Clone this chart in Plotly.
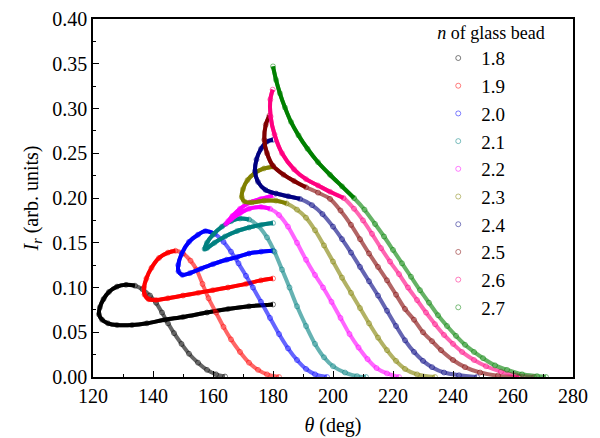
import plotly.graph_objects as go

labels = ["1.8", "1.9", "2.0", "2.1", "2.2", "2.3", "2.4", "2.5", "2.6", "2.7"]
colors = ["#000000", "#FF0000", "#0000FF", "#008080", "#FF00FF",
          "#808000", "#000080", "#800000", "#FF0080", "#008000"]

theta_18 = [180.0, 172.0, 165.0, 158.0, 150.0, 144.0, 138.0, 133.0, 128.0, 125.0, 123.0, 122.0, 122.3, 123.5,
            125.3, 128.0, 131.0, 134.0, 136.5, 139.0, 141.0, 143.0, 145.0, 147.0, 149.5, 152.0, 155.0, 158.0,
            161.0, 164.0]
I_18 = [0.081, 0.079, 0.076, 0.072, 0.067, 0.064, 0.060, 0.058, 0.058, 0.060, 0.064, 0.070, 0.078, 0.087,
        0.095, 0.101, 0.103, 0.102, 0.098, 0.091, 0.083, 0.072, 0.060, 0.049, 0.037, 0.026, 0.016, 0.008,
        0.003, 0.0005]

theta_19 = [180.0, 176.0, 171.0, 165.0, 160.0, 155.0, 150.0, 145.0, 141.0, 138.5, 137.2, 137.0, 137.8, 139.5,
            142.0, 145.0, 147.5, 150.0, 152.5, 154.5, 156.5, 158.5, 161.0, 163.5, 166.0, 169.0, 172.0, 175.0,
            178.0, 182.0]
I_19 = [0.110, 0.108, 0.104, 0.100, 0.097, 0.094, 0.091, 0.088, 0.086, 0.087, 0.092, 0.100, 0.110, 0.122,
        0.133, 0.139, 0.141, 0.138, 0.130, 0.120, 0.104, 0.088, 0.072, 0.056, 0.042, 0.028, 0.016, 0.008,
        0.003, 0.0]

theta_20 = [180.0, 176.0, 172.0, 168.0, 164.5, 160.0, 156.0, 152.3, 149.8, 148.5, 148.4, 149.6, 152.0, 155.0,
            157.5, 160.5, 163.5, 166.0, 168.5, 171.0, 173.3, 176.0, 179.0, 182.0, 185.0, 188.0, 191.0, 194.0,
            198.0]
I_20 = [0.141, 0.140, 0.138, 0.134, 0.131, 0.126, 0.121, 0.116, 0.114, 0.118, 0.125, 0.138, 0.151, 0.159,
        0.163, 0.160, 0.151, 0.140, 0.127, 0.113, 0.100, 0.084, 0.066, 0.048, 0.032, 0.019, 0.009, 0.003,
        0.0]

theta_21 = [180.0, 176.0, 172.0, 168.0, 164.0, 160.5, 158.0, 157.2, 158.0, 160.0, 163.0, 166.0, 169.0, 172.0,
            175.0, 178.0, 180.5, 183.0, 185.5, 188.0, 191.0, 194.0, 197.0, 200.0, 204.0, 208.0, 211.0]
I_21 = [0.172, 0.170, 0.167, 0.163, 0.157, 0.150, 0.144, 0.143, 0.150, 0.159, 0.168, 0.174, 0.177, 0.176,
        0.169, 0.156, 0.140, 0.120, 0.100, 0.079, 0.057, 0.037, 0.022, 0.012, 0.005, 0.001, 0.0]

theta_22 = [180.0, 176.0, 172.3, 169.0, 166.5, 165.0, 164.3, 166.0, 169.0, 172.0, 176.0, 179.0, 182.0, 185.0,
            188.0, 191.0, 194.0, 196.7, 199.5, 202.5, 205.5, 208.5, 211.5, 214.5, 218.0, 222.0]
I_22 = [0.203, 0.199, 0.195, 0.188, 0.180, 0.174, 0.171, 0.176, 0.183, 0.188, 0.190, 0.188, 0.181, 0.168,
        0.150, 0.131, 0.114, 0.100, 0.084, 0.066, 0.048, 0.033, 0.020, 0.010, 0.004, 0.0]

theta_23 = [180.0, 177.0, 174.0, 171.5, 170.0, 169.6, 170.5, 173.0, 177.0, 181.0, 184.5, 188.0, 191.0, 194.0,
            197.0, 200.0, 203.0, 206.0, 209.0, 212.0, 215.0, 218.0, 221.0, 224.0, 228.0, 234.0]
I_23 = [0.235, 0.233, 0.228, 0.220, 0.210, 0.201, 0.196, 0.195, 0.197, 0.197, 0.194, 0.187, 0.178, 0.164,
        0.147, 0.129, 0.111, 0.094, 0.077, 0.060, 0.044, 0.030, 0.018, 0.009, 0.003, 0.0]

theta_24 = [180.0, 178.0, 176.0, 174.5, 174.0, 175.0, 177.5, 181.0, 185.0, 189.0, 193.0, 196.5, 200.0, 203.0,
            206.0, 209.0, 212.0, 215.0, 218.0, 221.0, 224.0, 227.0, 230.0, 233.0, 237.0, 242.0, 248.0]
I_24 = [0.265, 0.263, 0.255, 0.243, 0.230, 0.218, 0.209, 0.205, 0.202, 0.199, 0.192, 0.182, 0.168, 0.154,
        0.139, 0.123, 0.107, 0.091, 0.074, 0.057, 0.041, 0.028, 0.018, 0.011, 0.005, 0.002, 0.0]

theta_25 = [178.8, 177.6, 177.1, 178.0, 180.0, 183.5, 187.0, 191.0, 195.0, 199.0, 202.5, 206.0, 209.0, 212.0,
            215.0, 218.0, 221.0, 224.0, 227.0, 230.0, 233.0, 236.0, 240.0, 244.0, 249.0, 255.0, 262.0]
I_25 = [0.292, 0.282, 0.265, 0.250, 0.236, 0.226, 0.219, 0.212, 0.206, 0.199, 0.186, 0.170, 0.154, 0.138,
        0.123, 0.108, 0.092, 0.076, 0.064, 0.050, 0.040, 0.030, 0.019, 0.011, 0.005, 0.0015, 0.0]

theta_26 = [179.9, 179.1, 179.2, 180.5, 183.0, 187.0, 191.0, 195.0, 199.0, 203.5, 207.0, 210.0, 213.0, 216.0,
            219.0, 222.0, 225.0, 228.0, 231.0, 234.0, 237.0, 240.0, 243.0, 247.0, 251.0, 256.0, 261.0, 267.0]
I_26 = [0.321, 0.310, 0.291, 0.271, 0.250, 0.232, 0.221, 0.214, 0.207, 0.200, 0.188, 0.175, 0.160, 0.144,
        0.129, 0.115, 0.100, 0.086, 0.072, 0.059, 0.047, 0.037, 0.028, 0.019, 0.012, 0.006, 0.002, 0.0]

theta_27 = [180.0, 181.0, 182.3, 184.0, 186.0, 188.5, 191.5, 195.0, 199.0, 203.0, 207.0, 210.5, 214.0, 217.0,
            220.0, 223.0, 226.0, 229.0, 232.0, 235.0, 238.0, 241.0, 244.0, 247.0, 250.0, 254.0, 258.0, 263.0,
            268.0, 271.0]
I_27 = [0.347, 0.332, 0.317, 0.301, 0.285, 0.270, 0.255, 0.240, 0.226, 0.213, 0.200, 0.187, 0.171, 0.157,
        0.142, 0.127, 0.112, 0.097, 0.083, 0.069, 0.057, 0.046, 0.036, 0.028, 0.021, 0.013, 0.008, 0.003,
        0.001, 0.0]

# number of leading points drawn densely (the rest of each series is sparser, lighter circles)
dense_count = [18, 17, 16, 14, 12, 11, 10, 8, 10, 11]

series_theta = [theta_18, theta_19, theta_20, theta_21, theta_22, theta_23, theta_24, theta_25, theta_26, theta_27]
series_I = [I_18, I_19, I_20, I_21, I_22, I_23, I_24, I_25, I_26, I_27]

FONT = "Liberation Serif"
fig = go.Figure()

for lab, col, xs, ys, k in zip(labels, colors, series_theta, series_I, dense_count):
    fig.add_trace(go.Scatter(
        x=xs, y=ys, mode="lines", opacity=0.6,
        line=dict(color=col, width=4, shape="spline", smoothing=0.8),
        showlegend=False, hoverinfo="skip"))
    fig.add_trace(go.Scatter(
        x=xs[:k], y=ys[:k], mode="lines",
        line=dict(color=col, width=4, shape="spline", smoothing=0.8),
        showlegend=False, hoverinfo="skip"))
    fig.add_trace(go.Scatter(
        x=xs, y=ys, mode="markers", name=lab,
        marker=dict(symbol="circle-open", size=5, color=col, opacity=0.5, line=dict(width=1)),
        showlegend=True))

fig.update_layout(
    width=600, height=438,
    margin=dict(l=93, r=27, t=19, b=61, autoexpand=False),
    plot_bgcolor="white", paper_bgcolor="white",
    font=dict(family=FONT, size=20, color="black"),
    legend=dict(
        title=dict(text="<i>n</i> of glass bead", font=dict(family=FONT, size=18)),
        x=0.713, y=1.009, xanchor="left", yanchor="top", maxheight=420,
        bgcolor="rgba(0,0,0,0)", borderwidth=0, itemwidth=36,
        font=dict(family=FONT, size=19), itemsizing="trace", tracegroupgap=0,
    ),
)

fig.update_xaxes(
    range=[120, 280], tick0=120, dtick=20, ticks="inside", ticklen=6, tickwidth=1.2, tickcolor="black",
    showline=True, linecolor="black", linewidth=1.5, mirror=True, showgrid=False, zeroline=False,
    minor=dict(dtick=10, ticks="inside", ticklen=3, tickcolor="black", tickwidth=1.2, showgrid=False),
    title=dict(text="<i>θ</i> (deg)", font=dict(family=FONT, size=20), standoff=12),
    tickfont=dict(family=FONT, size=20),
)
fig.update_yaxes(
    range=[0, 0.40], tick0=0, dtick=0.05, tickformat=".2f", ticks="inside", ticklen=6, tickwidth=1.2,
    tickcolor="black", showline=True, linecolor="black", linewidth=1.5, mirror=True, showgrid=False,
    zeroline=False,
    minor=dict(dtick=0.025, ticks="inside", ticklen=3, tickcolor="black", tickwidth=1.2, showgrid=False),
    title=dict(text="<i>I<sub>r</sub></i> (arb. units)", font=dict(family=FONT, size=20), standoff=8),
    tickfont=dict(family=FONT, size=20),
)

fig.write_html("out.html")
